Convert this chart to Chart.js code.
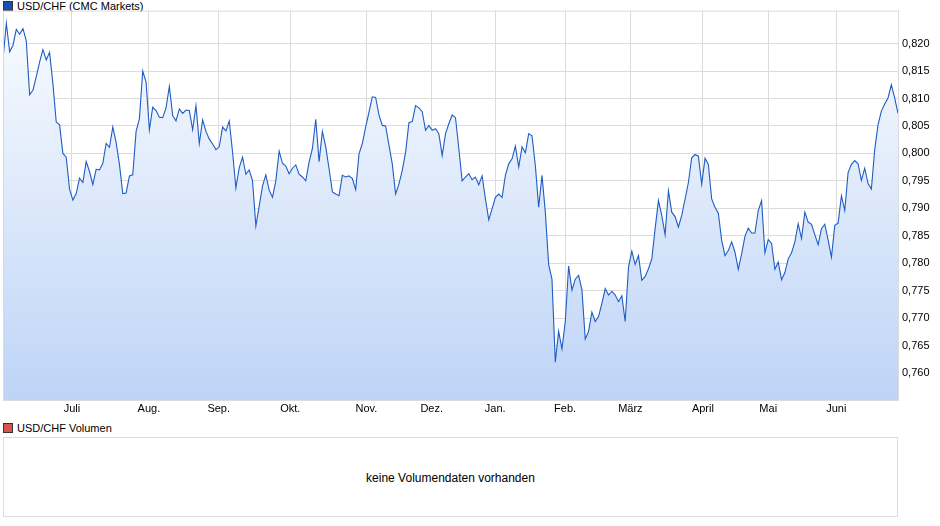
<!DOCTYPE html>
<html><head><meta charset="utf-8">
<script src="https://cdn.jsdelivr.net/npm/chart.js@4/dist/chart.umd.min.js"></script>
<style>
body{margin:0;width:940px;height:526px;background:#fff;font-family:"Liberation Sans",Arial,sans-serif;position:relative;overflow:hidden}
.lg{position:absolute;font-size:11px;color:#000}
.sq{display:inline-block;width:8px;height:8px;border:1px solid #333;margin-right:4px;vertical-align:-1px}
#c{position:absolute;left:0;top:0}
#vol{position:absolute;left:3px;top:437px;width:895px;height:80px;border:1px solid #ddd;box-sizing:border-box;text-align:center;line-height:80px;font-size:12px}
</style></head><body>
<div class="lg" style="left:3px;top:0px"><span class="sq" style="background:#1a4fb0"></span>USD/CHF (CMC Markets)</div>
<canvas id="c" width="940" height="420"></canvas>
<div class="lg" style="left:3px;top:422px"><span class="sq" style="background:#d9534f"></span>USD/CHF Volumen</div>
<div id="vol">keine Volumendaten vorhanden</div>
<script>
const seg1=[0.8171,0.8237,0.8185,0.8197,0.8226,0.8217,0.8227,0.8205,0.8107,0.8115,0.814,0.8166,0.8189,0.817,0.8184,0.8127,0.8057,0.8052,0.8,0.7993,0.7935,0.7915,0.7927,0.7955,0.7947,0.7985,0.7967,0.7943,0.7971,0.797,0.7982,0.8018,0.8011,0.8048,0.802,0.798,0.7927,0.7928,0.7959,0.7961,0.804,0.8063,0.815,0.813,0.8043,0.8084,0.8078,0.8066,0.8065,0.8083,0.8122,0.8069,0.8059,0.8081,0.8073,0.8079,0.8078,0.8043,0.8087,0.8018,0.8061,0.804,0.8026,0.8017,0.8007,0.8012,0.8048,0.8041,0.8059,0.8002,0.7937,0.7974,0.7993,0.7962,0.797,0.795,0.7868,0.7904,0.7941,0.7961,0.7933,0.792,0.795,0.8004,0.7982,0.7977,0.7963,0.7973,0.7979,0.7962,0.7957];
const seg2=[0.795,0.7984,0.8009,0.8062,0.7985,0.804,0.8012,0.7972,0.793,0.7926,0.7923,0.796,0.7957,0.7959,0.7954,0.7934,0.7999,0.8018,0.8048,0.8075,0.8103,0.8102,0.807,0.8051,0.805,0.8015,0.7981,0.7926,0.7944,0.7969,0.8002,0.8056,0.8058,0.8087,0.8083,0.8076,0.8042,0.8051,0.8042,0.8045,0.8036,0.7996,0.8036,0.8054,0.807,0.8065,0.8009,0.795,0.7957,0.7963,0.7952,0.7957,0.7943,0.7959,0.7917,0.7879,0.7899,0.792,0.7926,0.792,0.796,0.7981,0.799,0.8013,0.7975,0.8012,0.8001,0.8036,0.8032,0.7978,0.7902,0.796,0.7893,0.7798,0.7771,0.762,0.7676,0.7644,0.7694,0.7795,0.7751,0.7771,0.7778,0.7752,0.7662,0.7676,0.7711,0.7694];
const seg3=[0.7703,0.7727,0.7754,0.7742,0.7749,0.7742,0.773,0.7741,0.7694,0.7793,0.7822,0.7798,0.7814,0.7769,0.7776,0.779,0.7808,0.7863,0.7914,0.7887,0.7852,0.7932,0.7893,0.7885,0.7866,0.7887,0.7917,0.7947,0.7992,0.7998,0.7995,0.7944,0.7991,0.798,0.7917,0.7902,0.7891,0.7842,0.7814,0.7823,0.7839,0.782,0.7789,0.7817,0.7849,0.7864,0.7855,0.7855,0.7896,0.7914,0.7819,0.7843,0.7836,0.7789,0.7802,0.777,0.7783,0.7808,0.7819,0.7839,0.7872,0.7845,0.7893,0.7875,0.7871,0.7852,0.7834,0.7863,0.7871,0.7842,0.7811,0.7869,0.7873,0.7923,0.7896,0.7965,0.798,0.7987,0.7981,0.7951,0.7973,0.7945,0.7935,0.8007,0.8052,0.8077,0.809,0.8101,0.8125,0.8101,0.8073];
const prices=seg1.concat(seg2,seg3);
const monthLabels=["Juli","Aug.","Sep.","Okt.","Nov.","Dez.","Jan.","Feb.","März","April","Mai","Juni"];
const monthFrac=[0.077,0.163,0.241,0.321,0.406,0.479,0.55,0.628,0.701,0.782,0.855,0.931];
const yTicks=[0.760,0.765,0.770,0.775,0.780,0.785,0.790,0.795,0.800,0.805,0.810,0.815,0.820];
const N=prices.length;
const pts=prices.map((v,i)=>({x:i,y:v}));
const monthIdx=monthFrac.map(f=>f*(N-1));
const ctx=document.getElementById('c').getContext('2d');
const grad=ctx.createLinearGradient(0,10,0,400);
grad.addColorStop(0,'rgba(250,252,255,1)');grad.addColorStop(1,'rgba(190,212,246,1)');
new Chart(ctx,{type:'line',data:{datasets:[{data:pts,borderColor:'#1f5cc4',borderWidth:1.1,pointRadius:0,fill:'start',backgroundColor:grad,tension:0}]},
options:{responsive:false,animation:false,layout:{padding:{left:3,top:10,right:0,bottom:0}},
plugins:{legend:{display:false},tooltip:{enabled:false}},
scales:{
x:{type:'linear',min:0,max:N-1,afterBuildTicks:s=>{s.ticks=monthIdx.map(v=>({value:v}));},
 afterFit:s=>{s.height=20;},
 ticks:{autoSkip:false,maxRotation:0,padding:2,color:'#000',font:{family:'Liberation Sans',size:11},callback:(v,i)=>monthLabels[i]},
 grid:{color:'#dcdcdc',drawTicks:false},border:{color:'#dcdcdc'}},
y:{position:'right',min:0.7551,max:0.826,afterBuildTicks:s=>{s.ticks=yTicks.map(v=>({value:v}));},
 afterFit:s=>{s.width=42;},
 ticks:{padding:4,color:'#000',font:{family:'Liberation Sans',size:11},callback:v=>v.toFixed(3).replace('.',',')},
 grid:{color:'#dcdcdc',drawTicks:false},border:{color:'#dcdcdc'}}}},
plugins:[{id:'frame',afterDraw(c){const a=c.chartArea,g=c.ctx;g.save();g.strokeStyle='#dcdcdc';g.lineWidth=1;g.strokeRect(a.left+0.5,a.top+0.5,a.right-a.left,a.bottom-a.top);g.restore();}}]
});
</script></body></html>
